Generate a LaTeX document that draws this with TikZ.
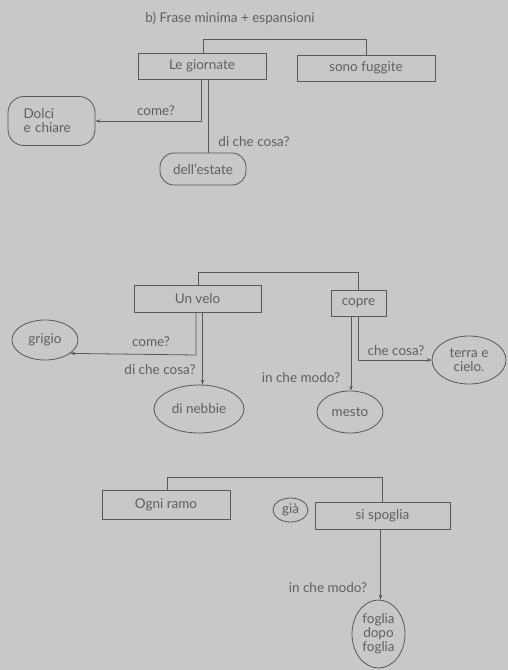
\documentclass[tikz,border=0pt]{standalone}
\usepackage{fontspec}
\setmainfont{Lato}
\usetikzlibrary{shapes.geometric,arrows.meta}
\definecolor{bg}{RGB}{200,201,198}
\definecolor{ink}{RGB}{88,88,88}
\definecolor{txt}{RGB}{95,95,95}
\begin{document}
\begin{tikzpicture}[x=1pt,y=-1pt,
  every node/.style={font=\fontsize{13.5}{14}\selectfont, text=txt},
  rbox/.style={draw=ink, line width=0.8pt, rectangle, inner sep=0pt},
  rrbox/.style={draw=ink, line width=0.8pt, rectangle, rounded corners=16pt, inner sep=0pt},
  ebox/.style={draw=ink, line width=0.8pt, ellipse, inner sep=0pt},
  lbl/.style={inner sep=0pt},
  conn/.style={draw=ink, line width=0.8pt},
  arr/.style={conn, -{Stealth[length=5pt,width=3.5pt]}}]
\fill[bg] (0,0) rectangle (508,670);
\useasboundingbox (0,0) rectangle (508,670);

% ---- section 1
\node[lbl] (title) at (230,18) {b) Frase minima + espansioni};
\node[rbox, minimum width=128pt, minimum height=26pt] (giornate) at (202,66) {Le giornate};
\node[rbox, minimum width=138pt, minimum height=26pt] (fuggite) at (366,68) {sono fuggite};
\node[rrbox, minimum width=87pt, minimum height=49pt, align=left, text width=56pt] (dolci) at (51.5,121) {Dolci\\e chiare};
\node[rrbox, rounded corners=14pt, minimum width=86pt, minimum height=32pt] (estate) at (203,169) {dell'estate};
\coordinate (t1) at (203,39);
\draw[conn] (t1 |- giornate.north) -- (t1) -| (fuggite.north);
\draw[arr] ([xshift=-1pt]giornate.south) |- (dolci.east);
\draw[conn] ([xshift=6pt]giornate.south) -- ([xshift=6pt]giornate.south |- estate.north);
\node[lbl] (l1) at (156,111) {come?};
\node[lbl] (l2) at (254,142) {di che cosa?};

% ---- section 2
\node[rbox, minimum width=127pt, minimum height=27pt] (velo) at (197.5,298.5) {Un velo};
\node[rbox, minimum width=55pt, minimum height=26pt] (copre) at (358.5,303) {copre};
\node[ebox, minimum width=66pt, minimum height=40pt] (grigio) at (45,340) {grigio};
\node[ebox, minimum width=90pt, minimum height=48pt] (nebbie) at (199,409) {di nebbie};
\node[ebox, minimum width=66pt, minimum height=42pt] (mesto) at (350,412) {mesto};
\node[ebox, minimum width=74pt, minimum height=48pt, align=center] (terra) at (469,360) {terra e\\cielo.};
\coordinate (t2) at (198,272);
\draw[conn] (t2 |- velo.north) -- (t2) -| (copre.north);
\coordinate (c2) at (196,355);
\draw[arr] (c2 |- velo.south) -- (c2) -- (grigio.-28);
\draw[arr] ([xshift=5pt]velo.south) -- ([xshift=5pt]velo.south |- nebbie.north);
\draw[arr] ([xshift=-7.5pt]copre.south) -- ([xshift=-7.5pt]copre.south |- mesto.north);
\draw[arr] (copre.south) |- (terra.west);
\node[lbl] (l3) at (151,342) {come?};
\node[lbl] (l4) at (160,370) {di che cosa?};
\node[lbl] (l5) at (301,378) {in che modo?};
\node[lbl] (l6) at (396,351) {che cosa?};

% ---- section 3
\node[rbox, minimum width=128pt, minimum height=29pt] (ramo) at (166,504.5) {Ogni ramo};
\node[ebox, minimum width=35pt, minimum height=24pt] (gia) at (290.5,510) {già};
\node[rbox, minimum width=135pt, minimum height=27pt] (spoglia) at (382.5,515.5) {si spoglia};
\node[ebox, minimum width=53pt, minimum height=68pt, align=center] (foglia) at (378.5,634) {foglia\\dopo\\foglia};
\coordinate (t3) at (167,477);
\draw[conn] (t3 |- ramo.north) -- (t3) -| (spoglia.north);
\draw[arr] ([xshift=-2pt]spoglia.south) -- ([xshift=-2pt]spoglia.south |- foglia.north);
\node[lbl] (l7) at (328,588) {in che modo?};
\end{tikzpicture}
\end{document}
